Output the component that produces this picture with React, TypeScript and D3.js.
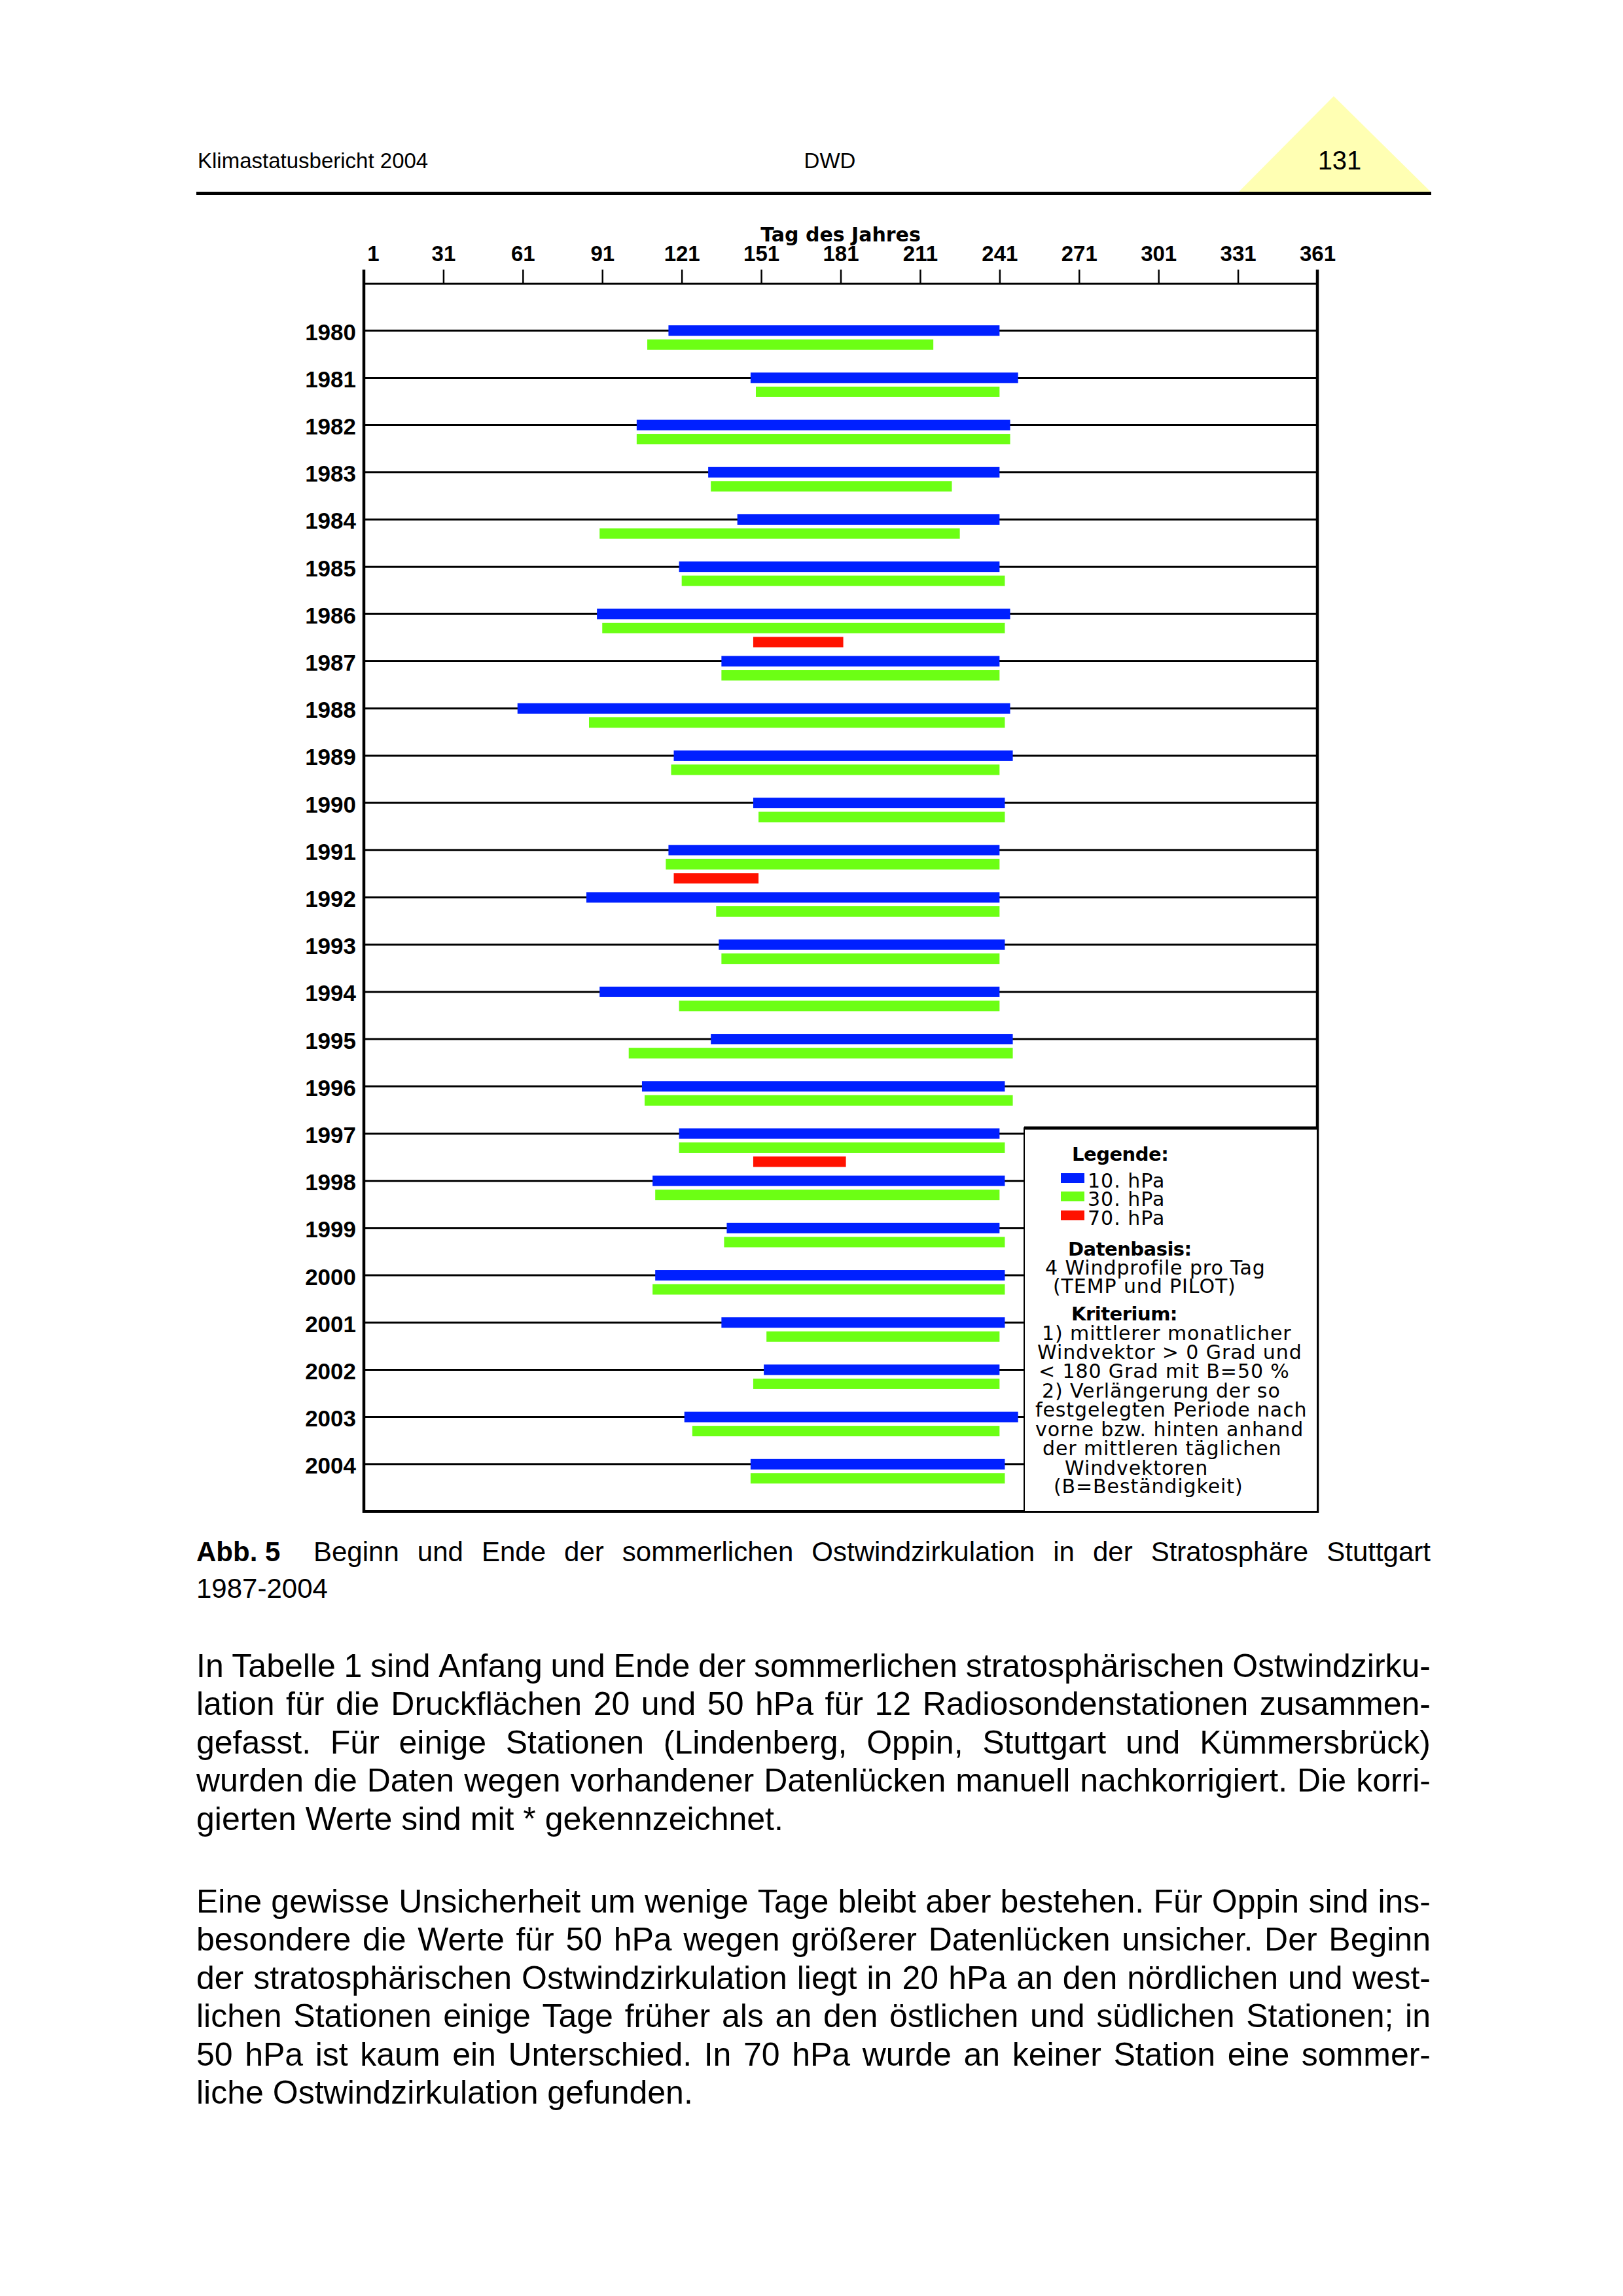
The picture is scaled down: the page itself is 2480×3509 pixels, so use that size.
import React, { useEffect, useRef } from "react";
import * as d3 from "d3";

// ---------- data ----------
const YEARS = [1980, 1981, 1982, 1983, 1984, 1985, 1986, 1987, 1988, 1989, 1990, 1991, 1992, 1993, 1994, 1995, 1996, 1997, 1998, 1999, 2000, 2001, 2002, 2003, 2004];
const HPA10_BEGIN = [116, 147, 104, 131, 142, 120, 89, 136, 59, 118, 148, 116, 85, 135, 90, 132, 106, 120, 110, 138, 111, 136, 152, 122, 147];
const HPA10_END = [241, 248, 245, 241, 241, 241, 245, 241, 245, 246, 243, 241, 241, 243, 241, 246, 243, 241, 243, 241, 243, 243, 241, 248, 243];
const HPA30_BEGIN = [108, 149, 104, 132, 90, 121, 91, 136, 86, 117, 150, 115, 134, 136, 120, 101, 107, 120, 111, 137, 110, 153, 148, 125, 147];
const HPA30_END = [216, 241, 245, 223, 226, 243, 243, 241, 243, 241, 243, 241, 241, 241, 241, 246, 246, 243, 241, 243, 243, 241, 241, 241, 243];
const HPA70_YEARS = [1986, 1991, 1997];
const HPA70_BEGIN = [148, 118, 148];
const HPA70_END = [182, 150, 183];

const DAY_TICKS = [1, 31, 61, 91, 121, 151, 181, 211, 241, 271, 301, 331, 361];
const AXIS_TITLE = "Tag des Jahres";
const LEVEL_LABELS = ["10. hPa", "30. hPa", "70. hPa"];
const LEVEL_COLORS = ["#0020FF", "#6CFF14", "#FF1200"];

const LEGEND_TITLE = "Legende:";
const LEGEND_NOTES = [
  { text: "Datenbasis:", bold: true },
  { text: "4 Windprofile pro Tag", bold: false },
  { text: "(TEMP und PILOT)", bold: false },
  { text: "Kriterium:", bold: true },
  { text: "1) mittlerer monatlicher", bold: false },
  { text: "Windvektor > 0 Grad und", bold: false },
  { text: "< 180 Grad mit B=50 %", bold: false },
  { text: "2) Verlängerung der so", bold: false },
  { text: "festgelegten Periode nach", bold: false },
  { text: "vorne bzw. hinten anhand", bold: false },
  { text: "der mittleren täglichen", bold: false },
  { text: "Windvektoren", bold: false },
  { text: "(B=Beständigkeit)", bold: false },
];

const HEADER_LEFT = "Klimastatusbericht 2004";
const HEADER_MID = "DWD";
const PAGE_NO = "131";
const CAPTION_LABEL = "Abb. 5";
const CAPTION_LINE1 = "Beginn und Ende der sommerlichen Ostwindzirkulation in der Stratosphäre Stuttgart";
const CAPTION_LINE2 = "1987-2004";
const PARA1 = [
  "In Tabelle 1 sind Anfang und Ende der sommerlichen stratosphärischen Ostwindzirku-",
  "lation für die Druckflächen 20 und 50 hPa für 12 Radiosondenstationen zusammen-",
  "gefasst. Für einige Stationen (Lindenberg, Oppin, Stuttgart und Kümmersbrück)",
  "wurden die Daten wegen vorhandener Datenlücken manuell nachkorrigiert. Die korri-",
  "gierten Werte sind mit * gekennzeichnet.",
];
const PARA2 = [
  "Eine gewisse Unsicherheit um wenige Tage bleibt aber bestehen. Für Oppin sind ins-",
  "besondere die Werte für 50 hPa wegen größerer Datenlücken unsicher. Der Beginn",
  "der stratosphärischen Ostwindzirkulation liegt in 20 hPa an den nördlichen und west-",
  "lichen Stationen einige Tage früher als an den östlichen und südlichen Stationen; in",
  "50 hPa ist kaum ein Unterschied. In 70 hPa wurde an keiner Station eine sommer-",
  "liche Ostwindzirkulation gefunden.",
];

// ---------- layout ----------
const W = 2480;
const H = 3509;
const PLOT = { left: 556, right: 2013, top: 433, bottom: 2310 };
const LEGEND_BOX = { x: 1565, y: 1724 };
const TEXT_L = 300;
const TEXT_R = 2186;
const SANS = "'Liberation Sans', Arial, sans-serif";
const WIDE = "'DejaVu Sans', sans-serif";

function justifyLine(
  g: d3.Selection<SVGGElement, unknown, null, undefined>,
  line: string,
  x0: number,
  x1: number,
  baseline: number,
  size: number,
  weight: string,
  justify: boolean
) {
  const words = line.split(" ");
  const nodes = words.map((w) =>
    g
      .append("text")
      .attr("y", baseline)
      .attr("font-family", SANS)
      .attr("font-size", size)
      .attr("font-weight", weight)
      .attr("fill", "#000")
      .text(w)
  );
  const widths = nodes.map((n) => (n.node() as SVGTextElement).getComputedTextLength());
  const total = d3.sum(widths);
  const gap = justify && words.length > 1 ? (x1 - x0 - total) / (words.length - 1) : size * 0.278;
  let x = x0;
  nodes.forEach((n, i) => {
    n.attr("x", x);
    x += widths[i] + gap;
  });
}

export default function App() {
  const ref = useRef<SVGSVGElement | null>(null);

  useEffect(() => {
    const svg = d3.select(ref.current as SVGSVGElement);
    svg.selectAll("*").remove();
    svg.append("rect").attr("width", W).attr("height", H).attr("fill", "#fff");

    // ----- page header -----
    const head = svg.append("g");
    head
      .append("polygon")
      .attr("points", "1893,293 2038,147 2186,293")
      .attr("fill", "#FFFFB3");
    head.append("text").attr("x", 302).attr("y", 257).attr("font-family", SANS).attr("font-size", 33).text(HEADER_LEFT);
    head.append("text").attr("x", 1268).attr("y", 257).attr("text-anchor", "middle").attr("font-family", SANS).attr("font-size", 33).text(HEADER_MID);
    head.append("text").attr("x", 2047).attr("y", 259).attr("text-anchor", "middle").attr("font-family", SANS).attr("font-size", 40).text(PAGE_NO);
    head.append("rect").attr("x", TEXT_L).attr("y", 293).attr("width", TEXT_R + 1 - TEXT_L).attr("height", 5).attr("fill", "#000");

    // ----- scales -----
    const x = d3.scaleLinear().domain([1, 361]).range([PLOT.left, PLOT.right]);
    const y = d3.scaleLinear().domain([YEARS[0] - 1, YEARS[YEARS.length - 1] + 1]).range([PLOT.top, PLOT.bottom]);
    const levelOffset = d3.scaleLinear().domain([0, 1]).range([0, 21.5]);
    const barH = 16;

    const chart = svg.append("g");

    // row lines
    chart
      .selectAll("line.row")
      .data(YEARS)
      .join("line")
      .attr("x1", x(1))
      .attr("x2", (d) => (y(d) > LEGEND_BOX.y ? LEGEND_BOX.x : x(361)))
      .attr("y1", (d) => y(d))
      .attr("y2", (d) => y(d))
      .attr("stroke", "#000")
      .attr("stroke-width", 3);

    // bars
    type Bar = { year: number; level: number; b: number; e: number };
    const bars: Bar[] = [];
    YEARS.forEach((yr, i) => {
      bars.push({ year: yr, level: 0, b: HPA10_BEGIN[i], e: HPA10_END[i] });
      bars.push({ year: yr, level: 1, b: HPA30_BEGIN[i], e: HPA30_END[i] });
    });
    HPA70_YEARS.forEach((yr, i) => bars.push({ year: yr, level: 2, b: HPA70_BEGIN[i], e: HPA70_END[i] }));

    chart
      .selectAll("rect.bar")
      .data(bars)
      .join("rect")
      .attr("x", (d) => x(d.b))
      .attr("width", (d) => x(d.e) - x(d.b))
      .attr("y", (d) => y(d.year) + levelOffset(d.level) - barH / 2)
      .attr("height", barH)
      .attr("fill", (d) => LEVEL_COLORS[d.level]);

    // top axis
    const axTop = d3
      .axisTop(x)
      .tickValues(DAY_TICKS)
      .tickSize(21)
      .tickSizeOuter(0)
      .tickPadding(13)
      .tickFormat(d3.format("d"));
    const gTop = chart.append("g").attr("transform", `translate(0,${PLOT.top})`).call(axTop);
    gTop.attr("font-family", SANS).attr("font-size", 33).attr("font-weight", "bold");
    gTop.select(".domain").attr("stroke-width", 3);
    gTop.selectAll(".tick line").attr("stroke-width", 2.5);
    gTop
      .selectAll<SVGTextElement, number>(".tick text")
      .attr("fill", "#000")
      .attr("dx", (d) => (d === DAY_TICKS[0] ? 14 : 0));

    chart
      .append("text")
      .attr("x", (PLOT.left + PLOT.right) / 2)
      .attr("y", 369)
      .attr("text-anchor", "middle")
      .attr("font-family", WIDE)
      .attr("font-weight", "bold")
      .attr("font-size", 30)
      .text(AXIS_TITLE);

    // left labels
    const axLeft = d3.axisLeft(y).tickValues(YEARS).tickSize(0).tickPadding(12).tickFormat(d3.format("d"));
    const gLeft = chart.append("g").attr("transform", `translate(${PLOT.left},0)`).call(axLeft);
    gLeft.select(".domain").remove();
    gLeft.attr("font-family", SANS).attr("font-size", 35).attr("font-weight", "bold");
    gLeft.selectAll(".tick text").attr("fill", "#000").attr("dy", "0.4em");

    // frame
    const tickTop = PLOT.top - 21;
    chart.append("line").attr("x1", PLOT.left).attr("x2", PLOT.left).attr("y1", tickTop).attr("y2", PLOT.bottom + 2).attr("stroke", "#000").attr("stroke-width", 4.5);
    chart.append("line").attr("x1", PLOT.right).attr("x2", PLOT.right).attr("y1", tickTop).attr("y2", PLOT.bottom + 2).attr("stroke", "#000").attr("stroke-width", 4.5);
    chart.append("line").attr("x1", PLOT.left).attr("x2", PLOT.right).attr("y1", PLOT.bottom).attr("y2", PLOT.bottom).attr("stroke", "#000").attr("stroke-width", 4);

    // legend box
    const lg = chart.append("g").attr("transform", `translate(${LEGEND_BOX.x},${LEGEND_BOX.y})`);
    lg.append("rect")
      .attr("x", 0)
      .attr("y", 0)
      .attr("width", PLOT.right - LEGEND_BOX.x)
      .attr("height", PLOT.bottom - LEGEND_BOX.y)
      .attr("fill", "#fff")
      .attr("stroke", "#000")
      .attr("stroke-width", 2);
    lg.append("line").attr("x1", 0).attr("x2", PLOT.right - LEGEND_BOX.x).attr("y1", 0).attr("y2", 0).attr("stroke", "#000").attr("stroke-width", 5);

    lg.append("text")
      .attr("x", 73)
      .attr("y", 50)
      .attr("font-family", WIDE)
      .attr("font-weight", "bold")
      .attr("font-size", 29)
      .attr("letter-spacing", -0.5)
      .text(LEGEND_TITLE);

    const itemBase = [91, 119, 148];
    LEVEL_LABELS.forEach((lab, i) => {
      lg.append("rect").attr("x", 56).attr("y", itemBase[i] - 22).attr("width", 36).attr("height", 15).attr("fill", LEVEL_COLORS[i]);
      lg.append("text").attr("x", 97).attr("y", itemBase[i]).attr("font-family", WIDE).attr("font-size", 30).attr("letter-spacing", 1).text(lab);
    });

    const noteIndent = [67, 32, 44, 72, 27, 20, 22, 27, 17, 17, 28, 62, 45];
    const noteBase = [195, 224, 252, 294, 324, 353, 382, 412, 441, 471, 500, 530, 558];
    LEGEND_NOTES.forEach((n, i) => {
      lg.append("text")
        .attr("x", noteIndent[i])
        .attr("y", noteBase[i])
        .attr("font-family", WIDE)
        .attr("font-weight", n.bold ? "bold" : "normal")
        .attr("font-size", n.bold ? 29 : 30)
        .attr("letter-spacing", n.bold ? -0.5 : 0.9)
        .attr("xml:space", "preserve")
        .text(n.text);
    });

    // ----- caption -----
    const cap = svg.append("g");
    cap.append("text").attr("x", TEXT_L).attr("y", 2386).attr("font-family", SANS).attr("font-weight", "bold").attr("font-size", 42).text(CAPTION_LABEL);
    justifyLine(cap, CAPTION_LINE1, 479, TEXT_R, 2386, 42, "normal", true);
    justifyLine(cap, CAPTION_LINE2, TEXT_L, TEXT_R, 2442, 42, "normal", false);

    // ----- body text -----
    const body = svg.append("g");
    const lineGap = 58.4;
    PARA1.forEach((ln, i) => justifyLine(body, ln, TEXT_L, TEXT_R, 2563 + i * lineGap, 50, "normal", i < PARA1.length - 1));
    PARA2.forEach((ln, i) => justifyLine(body, ln, TEXT_L, TEXT_R, 2923 + i * lineGap, 50, "normal", i < PARA2.length - 1));
  }, []);

  return (
    <svg
      ref={ref}
      width={W}
      height={H}
      viewBox={`0 0 ${W} ${H}`}
      style={{ position: "absolute", left: 0, top: 0, display: "block", background: "#fff" }}
    />
  );
}
